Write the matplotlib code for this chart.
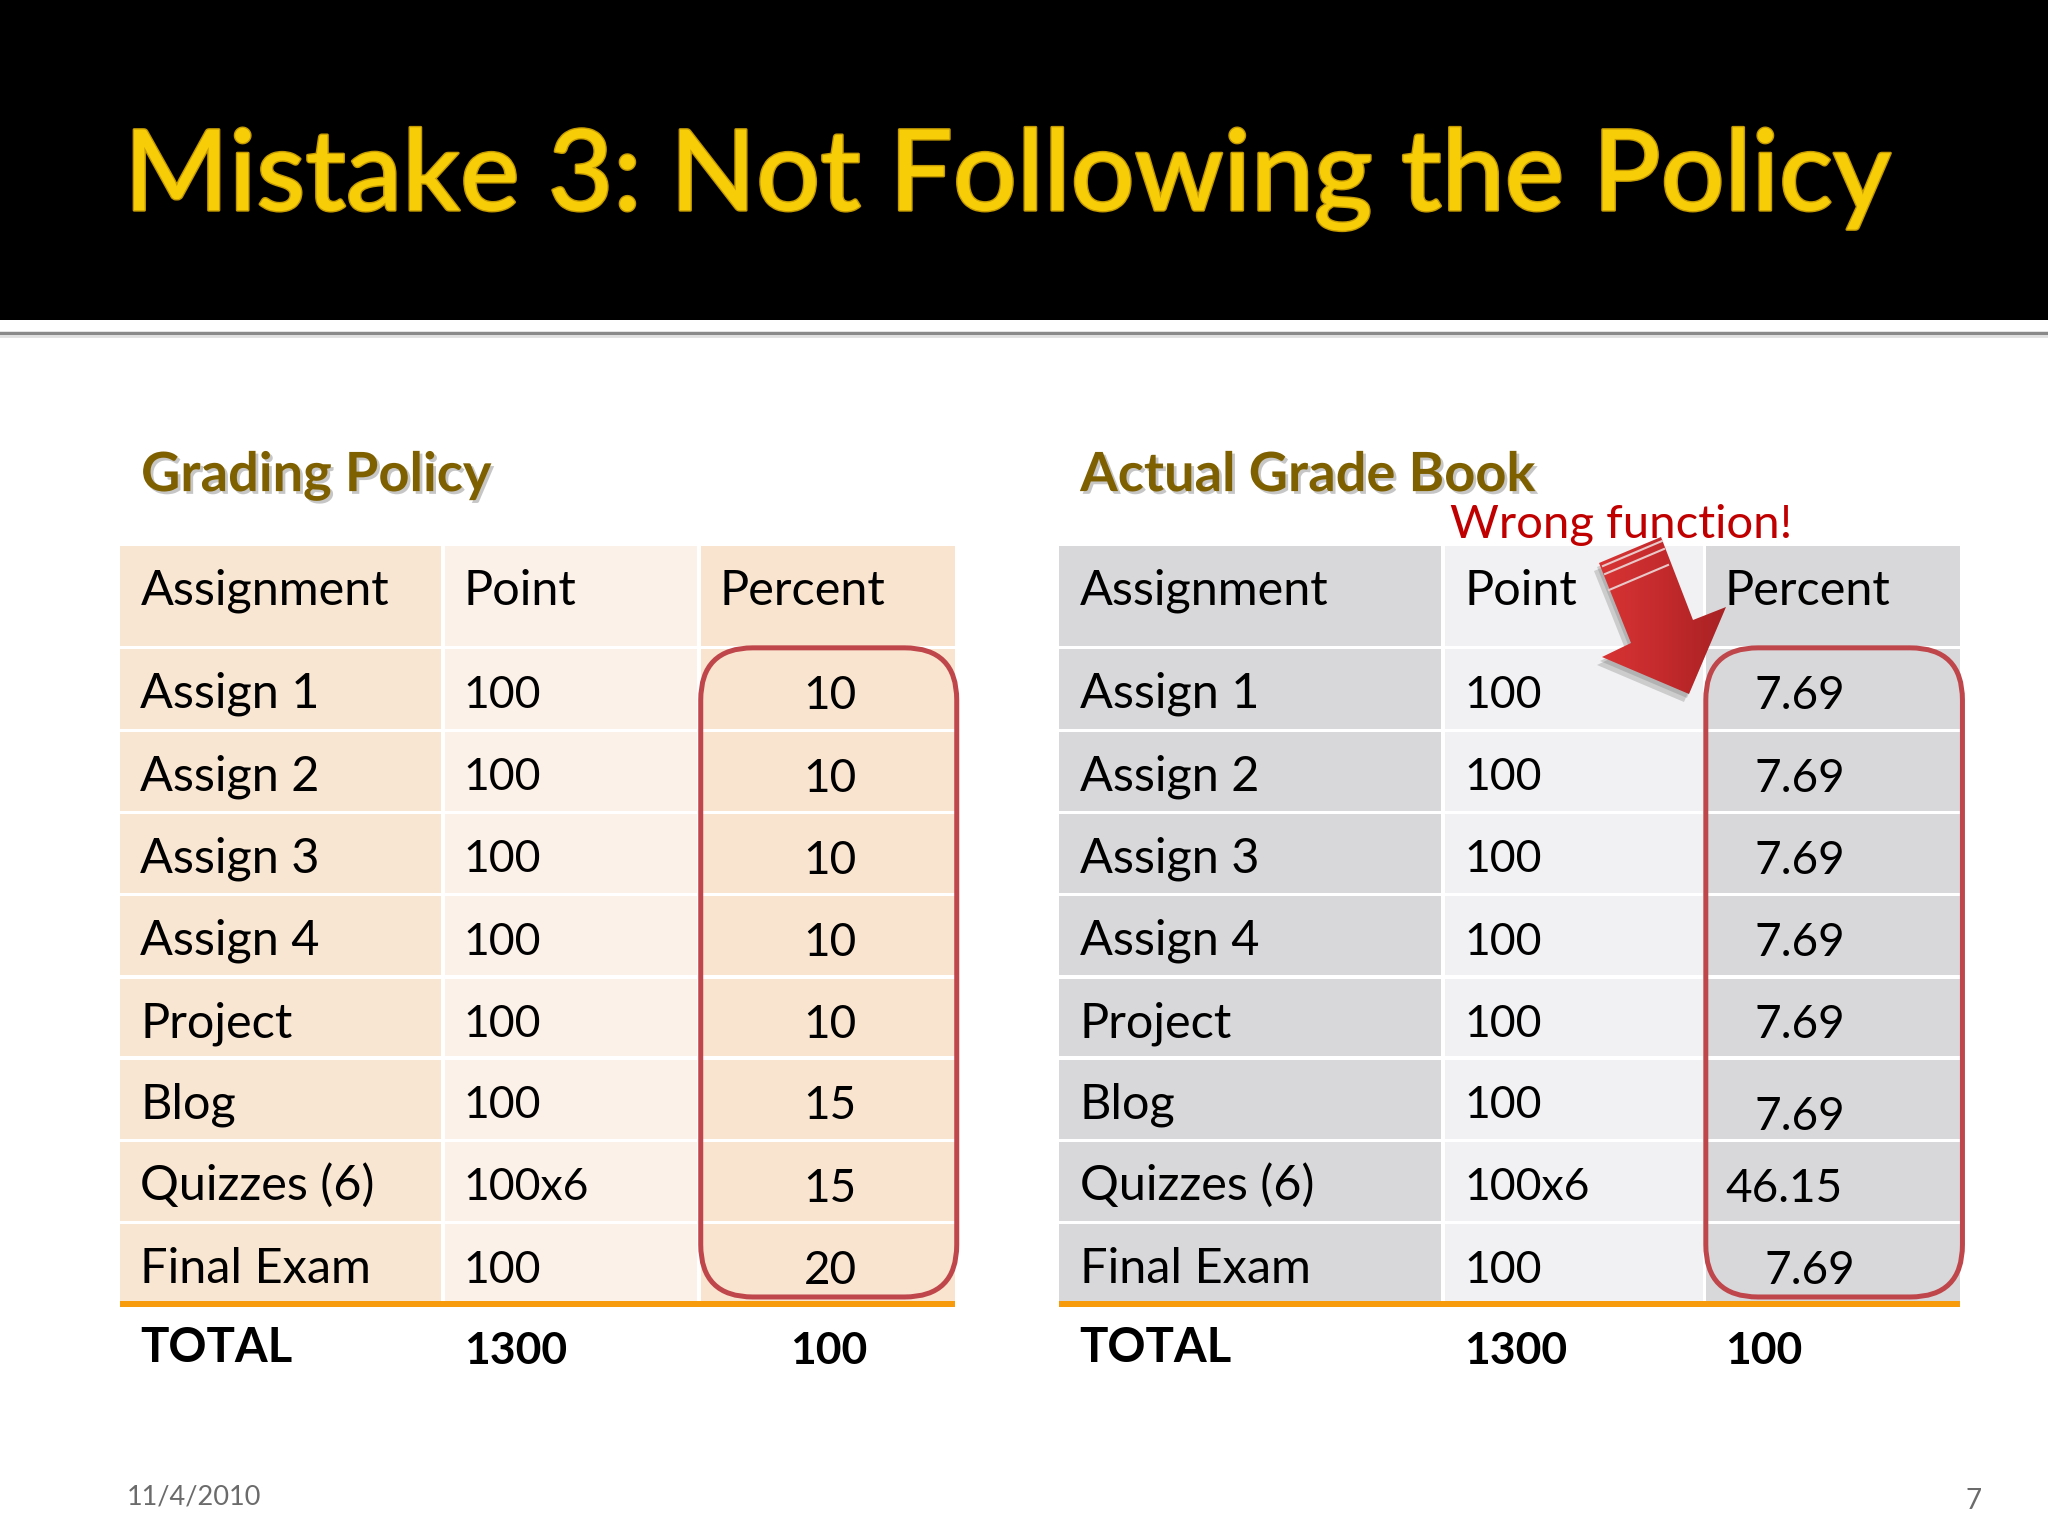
import numpy as np
import matplotlib
matplotlib.use('Agg')
import matplotlib.pyplot as plt
import matplotlib.patches as mpatches
import matplotlib.patheffects as pe

plt.rcParams['font.family'] = ['Lato', 'DejaVu Sans']

# slide text
TITLE = 'Mistake 3: Not Following the Policy'
HEAD_LEFT = 'Grading Policy'
HEAD_RIGHT = 'Actual Grade Book'
COLUMNS = ['Assignment', 'Point', 'Percent']
ASSIGNMENTS = ['Assign 1', 'Assign 2', 'Assign 3', 'Assign 4', 'Project', 'Blog', 'Quizzes (6)', 'Final Exam']
POINTS = ['100', '100', '100', '100', '100', '100', '100x6', '100']
POLICY_PERCENT = ['10', '10', '10', '10', '10', '15', '15', '20']
ACTUAL_PERCENT = ['7.69', '7.69', '7.69', '7.69', '7.69', '7.69', '46.15', '7.69']
TOTALS = ['TOTAL', '1300', '100']

# layout, in pixels of a 1568 wide view of the slide
S = 2048 / 1568
ROW_EDGES = [418, 496, 559, 622, 685, 748, 810, 873, 936, 997]
LEFT_EDGES = [92, 339, 535.5, 731]
RIGHT_EDGES = [811, 1105, 1305, 1501]
ACTUAL_X = [1343, 1343, 1343, 1343, 1343, 1343, 1321, 1351]
ACTUAL_DROP = [0, 0, 0, 0, 0, 8, 0, 0]

LEFT_COLORS = ['#f8e5d2', '#fbf1e8', '#f9e4d0']
RIGHT_COLORS = ['#d8d8da', '#f1f1f3', '#d8d8da']
BODY = 35
NUM = 32


def p(v):
    return v * S


fig = plt.figure(figsize=(20.48, 15.36), dpi=100, facecolor='white')
ax = fig.add_axes([0, 0, 1, 1])
ax.set_xlim(0, 2048)
ax.set_ylim(1536, 0)
ax.axis('off')

# title band
ax.add_patch(mpatches.Rectangle((0, 0), 2048, p(245), color='black', lw=0))
ax.plot([0, 2048], [p(255), p(255)], color='#8a8a8a', lw=2.5)
ax.plot([0, 2048], [p(257.5), p(257.5)], color='#e0e0e0', lw=2)
ax.text(p(95), p(161), TITLE, color='#f7cd08', fontsize=81, va='baseline', fontweight='medium',
        path_effects=[pe.withStroke(linewidth=2, foreground='#c49a00')])


def draw_table(edges, colors, head, percents, xs, drops, percent_ha):
    shadow = [pe.SimplePatchShadow(offset=(2, -2), alpha=0.3, shadow_rgbFace='#444444'), pe.Normal()]
    ax.text(p(edges[0] + 16), p(376), head, color='#7f6000', fontsize=39, fontweight='bold',
            va='baseline', path_effects=shadow)

    for c in range(3):
        for r in range(len(ROW_EDGES) - 1):
            x0, x1 = edges[c] + (1.5 if c else 0), edges[c + 1] - (1.5 if c < 2 else 0)
            y0, y1 = ROW_EDGES[r] + (1.2 if r else 0), ROW_EDGES[r + 1] - 1.2
            ax.add_patch(mpatches.Rectangle((p(x0), p(y0)), p(x1 - x0), p(y1 - y0), color=colors[c], lw=0))

    # orange rule under the last row
    ax.add_patch(mpatches.Rectangle((p(edges[0]), p(996)), p(edges[3] - edges[0]), p(5),
                                    color='#f79a0b', lw=0, zorder=2))

    text_x = [edges[0] + 15.5, edges[1] + 16, edges[2] + 15.5]
    for c, name in enumerate(COLUMNS):
        ax.text(p(text_x[c]), p(463), name, fontsize=BODY, va='baseline', color='black')

    for r, name in enumerate(ASSIGNMENTS):
        base = ROW_EDGES[r + 1] + 46
        ax.text(p(text_x[0]), p(base), name, fontsize=BODY, va='baseline', color='black')
        ax.text(p(text_x[1]), p(base), POINTS[r], fontsize=NUM, va='baseline', color='black')
        ax.text(p(xs[r]), p(base + 1 + drops[r]), percents[r], fontsize=NUM + 1, va='baseline',
                ha=percent_ha, color='black')

    # totals row, same baseline for all three
    ax.text(p(text_x[0]), p(1043), TOTALS[0], fontsize=BODY - 1, fontweight='bold', va='baseline', color='black')
    ax.text(p(text_x[1]), p(1044), TOTALS[1], fontsize=NUM, fontweight='bold', va='baseline', color='black')
    total_x = 664 if percent_ha == 'right' else edges[2] + 16
    ax.text(p(total_x), p(1044), TOTALS[2], fontsize=NUM, fontweight='bold', va='baseline',
            ha=percent_ha, color='black')

    # red rounded box around the percent column
    bx0, bx1 = edges[2] + 1, edges[3] + 1.5
    ax.add_patch(mpatches.FancyBboxPatch(
        (p(bx0 + 40), p(496 + 40)), p(bx1 - bx0 - 80), p(497 - 80),
        boxstyle='round,pad=%f,rounding_size=%f' % (p(40), p(40)),
        fc='none', ec='#bf464a', lw=3.6, zorder=4))


draw_table(LEFT_EDGES, LEFT_COLORS, HEAD_LEFT, POLICY_PERCENT, [656] * 8, [0] * 8, 'right')
draw_table(RIGHT_EDGES, RIGHT_COLORS, HEAD_RIGHT, ACTUAL_PERCENT, ACTUAL_X, ACTUAL_DROP, 'left')

# callout
ax.text(p(1110), p(412), 'Wrong function!', color='#c00000', fontsize=34, va='baseline', zorder=3)

arrow_x = np.array([1661, 1599, 1631, 1602, 1689, 1726, 1693])
arrow_y = np.array([537, 563, 643, 657, 694, 607, 620])
ax.add_patch(mpatches.Polygon(np.c_[arrow_x - 5, arrow_y + 8], color='#777777', alpha=0.3, lw=0, zorder=5))
ax.add_patch(mpatches.Polygon(np.c_[arrow_x - 2, arrow_y + 4], color='#777777', alpha=0.3, lw=0, zorder=5))
shape = mpatches.Polygon(np.c_[arrow_x, arrow_y], fc='none', ec='none', zorder=6)
ax.add_patch(shape)
shade = matplotlib.colors.LinearSegmentedColormap.from_list('arrow', ['#d93434', '#c42a2c', '#a82224'])
im = ax.imshow(np.linspace(0, 1, 256).reshape(1, -1), cmap=shade, aspect='auto',
               extent=(arrow_x.min(), arrow_x.max(), arrow_y.max(), arrow_y.min()), zorder=6)
im.set_clip_path(shape)
ax.set_xlim(0, 2048)
ax.set_ylim(1536, 0)
# pale stripes across the tail
for offset in [0, 8, 24]:
    ax.plot([1603 + offset * 0.25, 1662 + offset * 0.25], [566 + offset, 541 + offset], color='#e8c8c8', lw=1.5, zorder=7)

# footer
ax.text(p(97), p(1152), '11/4/2010', color='#6b6b6b', fontsize=19.5, va='baseline')
ax.text(p(1505), p(1155), '7', color='#6b6b6b', fontsize=20, va='baseline')

fig.savefig('out.png', dpi=100, facecolor='white')
